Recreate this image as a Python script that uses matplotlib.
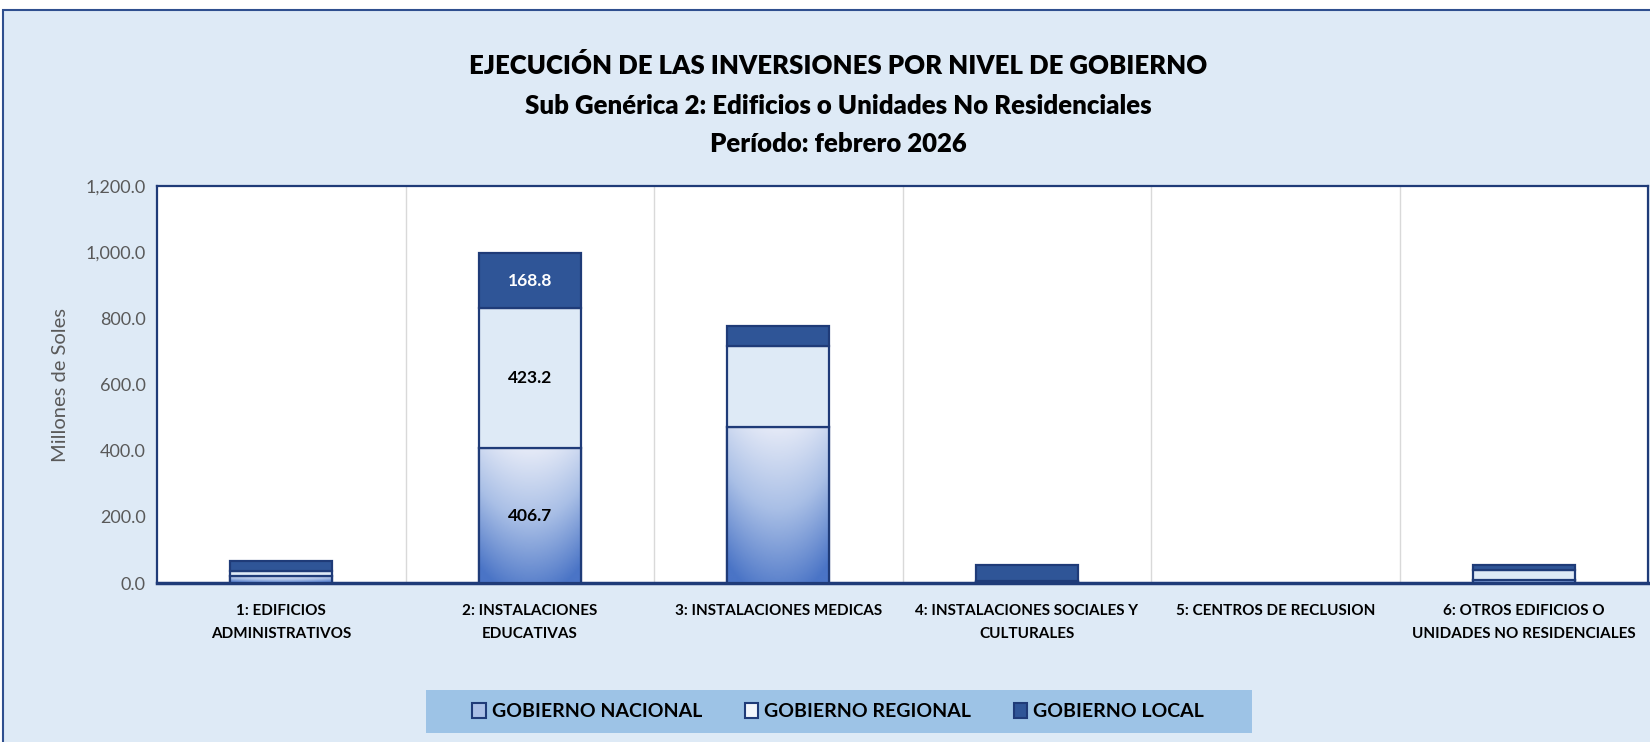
import numpy as np
import matplotlib
matplotlib.use("Agg")
import matplotlib.pyplot as plt
from matplotlib.patches import Rectangle
from matplotlib.colors import LinearSegmentedColormap

categories = ["1: EDIFICIOS\nADMINISTRATIVOS", "2: INSTALACIONES\nEDUCATIVAS",
              "3: INSTALACIONES MEDICAS", "4: INSTALACIONES SOCIALES Y\nCULTURALES",
              "5: CENTROS DE RECLUSION", "6: OTROS EDIFICIOS O\nUNIDADES NO RESIDENCIALES"]
nacional = [20.0, 406.7, 472.0, 2.0, 0.0, 10.0]
regional = [17.0, 423.2, 243.0, 3.0, 0.0, 28.0]
local_ = [31.0, 168.8, 61.0, 49.0, 0.0, 16.0]
series_names = ["GOBIERNO NACIONAL", "GOBIERNO REGIONAL", "GOBIERNO LOCAL"]
labels_shown = [1]

FONT = "Lato"
navy = "#1F3B78"
bg = "#DEEAF6"

fig = plt.figure(figsize=(16.5, 7.42), dpi=100)
fig.patch.set_facecolor("white")
fig.add_artist(Rectangle((3/1650, -0.1), 1.1, 1 - 9.5/742 + 0.1, transform=fig.transFigure,
                         facecolor=bg, edgecolor="#2F4F8F", linewidth=1.5, zorder=0))

ax = fig.add_axes([157/1650, 1 - 583/742, (1648 - 157)/1650, (583 - 186)/742])
ax.set_facecolor("white")
x = np.arange(len(categories))
w = 0.41

def lw_for(vals):
    return [1.6 if v > 0 else 0 for v in vals]

cmap = LinearSegmentedColormap.from_list("g", ["#ECEFF9", "#A9BFE6", "#4A74C6"])
bars_n = ax.bar(x, nacional, w, color="#8FAADC", edgecolor=navy, linewidth=lw_for(nacional), zorder=3)
for b in bars_n:
    h = b.get_height()
    if h <= 0:
        continue
    bx = b.get_x()
    yy = np.linspace(0, 1, 200)[:, None]
    xx = np.linspace(-1, 1, 100)[None, :]
    val = np.clip(0.05 + 0.85 * yy + 0.2 * xx**2, 0, 1)
    im = ax.imshow(val, cmap=cmap, vmin=0, vmax=1, extent=[bx, bx + w, 0, h],
                   origin="upper", aspect="auto", zorder=3.5)
    im.set_clip_path(b)
    ax.add_patch(Rectangle((bx, 0), w, h, fill=False, edgecolor=navy, linewidth=1.6, zorder=4))
bars_r = ax.bar(x, regional, w, bottom=nacional, color="#DEEAF6", edgecolor=navy,
                linewidth=lw_for(regional), zorder=4)
bot2 = [a + b for a, b in zip(nacional, regional)]
bars_l = ax.bar(x, local_, w, bottom=bot2, color="#2F5597", edgecolor=navy,
                linewidth=lw_for(local_), zorder=4)

for i in labels_shown:
    ax.text(x[i], nacional[i] / 2, f"{nacional[i]:.1f}", ha="center", va="center",
            fontsize=12.5, fontweight="bold", family=FONT, color="black", zorder=6)
    ax.text(x[i], nacional[i] + regional[i] / 2, f"{regional[i]:.1f}", ha="center", va="center",
            fontsize=12.5, fontweight="bold", family=FONT, color="black", zorder=6)
    ax.text(x[i], bot2[i] + local_[i] / 2, f"{local_[i]:.1f}", ha="center", va="center",
            fontsize=12.5, fontweight="bold", family=FONT, color="white", zorder=6)

ax.set_xlim(-0.5, len(categories) - 0.5)
ax.set_ylim(0, 1200)
ax.set_yticks(np.arange(0, 1201, 200))
ax.set_yticklabels([f"{v:,.1f}" for v in np.arange(0, 1201, 200)], family=FONT,
                   fontsize=13, color="#595959")
ax.set_xticks(x)
ax.set_xticklabels(categories, family=FONT, fontsize=11, fontweight="bold",
                   color="black", linespacing=1.85)
ax.tick_params(axis="both", length=0)
ax.tick_params(axis="x", pad=15)
ax.tick_params(axis="y", pad=8)
for xv in np.arange(0.5, len(categories) - 0.5, 1):
    ax.axvline(xv, color="#D9D9D9", linewidth=1, zorder=1)
for s in ax.spines.values():
    s.set_color(navy)
    s.set_linewidth(1.6)
ax.spines["bottom"].set_linewidth(2.5)
ax.set_ylabel("Millones de Soles", family=FONT, fontsize=14.5, color="#595959", labelpad=12)

cx = 838 / 1650
fig.text(cx, 1 - 65/742, "EJECUCIÓN DE LAS INVERSIONES POR NIVEL DE GOBIERNO", ha="center",
         va="center", fontsize=18.5, fontweight="heavy", family=FONT, color="black")
fig.text(cx, 1 - 106/742, "Sub Genérica 2: Edificios o Unidades No Residenciales", ha="center",
         va="center", fontsize=18.5, fontweight="heavy", family=FONT, color="black")
fig.text(cx, 1 - 144/742, "Período: febrero 2026", ha="center",
         va="center", fontsize=18.5, fontweight="heavy", family=FONT, color="black")

handles = [Rectangle((0, 0), 1, 1, facecolor="#A9BFE6", edgecolor=navy, linewidth=1.5),
           Rectangle((0, 0), 1, 1, facecolor="#F2F6FC", edgecolor=navy, linewidth=1.5),
           Rectangle((0, 0), 1, 1, facecolor="#2F5597", edgecolor=navy, linewidth=1.5)]
fig.add_artist(Rectangle((426/1650, 1 - 733/742), (1252 - 426)/1650, 43/742,
                         transform=fig.transFigure, facecolor="#9DC3E6", edgecolor="none", zorder=1))
leg = fig.legend(handles, series_names, loc="center", bbox_to_anchor=(cx, 1 - 711.5/742),
                 ncol=3, frameon=False, prop={"family": FONT, "weight": "bold", "size": 14},
                 handlelength=0.7, handleheight=0.8, handletextpad=0.3, columnspacing=2.2)

fig.savefig("out.png", dpi=100, facecolor=fig.get_facecolor())
